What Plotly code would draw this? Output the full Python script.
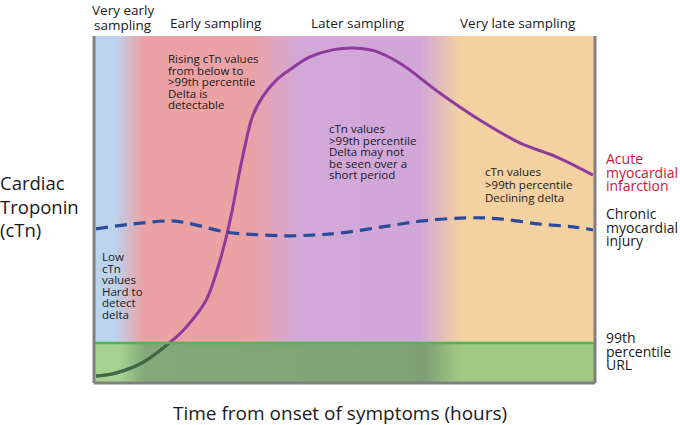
import plotly.graph_objects as go

# ---- data (arbitrary units: x = hours scale 0-100, y = cTn scale 0-100) ----
ami_x = [0.4, 4.4, 9.6, 15, 18.4, 22.4, 25, 26.4, 27.6, 29, 30.4, 31.6, 33.6, 36.4,
         39, 43, 47.6, 52.4, 56, 61, 69, 77, 85, 92.4, 99.6]
ami_y = [2.0, 2.9, 5.8, 11.5, 16.1, 23.9, 34.6, 42.1, 49.9, 60.5, 70.0, 76.7, 82.4,
         87.3, 90.2, 93.9, 96.0, 96.5, 95.7, 92.2, 83.6, 75.8, 69.2, 65.1, 59.9]

chronic_x = [0.4, 7.6, 15.6, 19.6, 26.4, 33, 39, 44.4, 49, 57.6, 65.6, 74.4, 81, 89, 95.6, 99.6]
chronic_y = [44.4, 45.8, 46.7, 45.8, 43.5, 42.7, 42.4, 42.7, 43.2, 45.0, 46.7, 47.6, 47.3,
             45.8, 45.0, 44.1]

url_99th = 11.5

phase_labels = ["Very early<br>sampling", "Early sampling", "Later sampling", "Very late sampling"]

# background gradient stops (x position, colour)
bg_stops = [(0, "#bcd3ec"), (4, "#bcd3ec"), (9.8, "#eaa2a5"), (31, "#eaa2a5"),
            (41, "#d2a8d8"), (65, "#d1a7d8"), (73, "#f3d1a1"), (100, "#f3d1a1")]
band_stops = [(0, "#a5d191"), (5, "#a5d191"), (10, "#84a878"), (60, "#80a475"),
              (66, "#7f9f74"), (73, "#a2c983"), (100, "#a2c983")]

fig = go.Figure()

grid_x = [i * 0.5 for i in range(201)]


def scale(stops):
    return [[p / 100, c] for p, c in stops]


fig.add_trace(go.Heatmap(x=grid_x, y=[url_99th, 100], z=[grid_x],
                         colorscale=scale(bg_stops), zmin=0, zmax=100, showscale=False,
                         zsmooth="best", hoverinfo="skip"))
fig.add_trace(go.Heatmap(x=grid_x, y=[0, url_99th], z=[grid_x],
                         colorscale=scale(band_stops), zmin=0, zmax=100, showscale=False,
                         zsmooth="best", hoverinfo="skip"))

# AMI curve (purple above URL, dark green within the band)
fig.add_trace(go.Scatter(x=ami_x, y=ami_y, mode="lines", line=dict(color="#8e3b9e", width=3, shape="spline"),
                         hoverinfo="skip"))
cut = next(i for i, v in enumerate(ami_y) if v >= url_99th)
fig.add_trace(go.Scatter(x=ami_x[:cut + 1], y=ami_y[:cut + 1], mode="lines",
                         line=dict(color="#3d6b40", width=3, shape="spline"), hoverinfo="skip"))

# chronic injury dashed
fig.add_trace(go.Scatter(x=chronic_x, y=chronic_y, mode="lines",
                         line=dict(color="#2c4a9a", width=3.2, shape="spline", dash="12px,7px"),
                         hoverinfo="skip"))

shapes = [
    dict(type="line", xref="x", yref="y", x0=0, x1=100, y0=url_99th, y1=url_99th,
         line=dict(color="#4fb552", width=2.5)),
    dict(type="line", xref="paper", yref="paper", x0=0, x1=0, y0=0, y1=1, line=dict(color="#808080", width=3)),
    dict(type="line", xref="paper", yref="paper", x0=1, x1=1, y0=0, y1=1, line=dict(color="#808080", width=3)),
    dict(type="line", xref="paper", yref="paper", x0=0, x1=1, y0=0, y1=0, line=dict(color="#808080", width=3)),
]

L, T, W, H = 94, 36, 501, 347
FONT = "Open Sans"
ann = []


def px_x(px):
    return (px - L) / W


def px_y(py):
    return (T + H - py) / H


def block(lines, x, y_top, size, spacing, color="#1a1a1a", xanchor="left"):
    for i, t in enumerate(lines):
        ann.append(dict(text=t, xref="paper", yref="paper", x=px_x(x), y=px_y(y_top + i * spacing),
                        xanchor=xanchor, yanchor="top", showarrow=False,
                        font=dict(family=FONT, size=size, color=color)))


# phase headers
block(["Very early", "sampling"], 123, -1, 13.5, 14.5, xanchor="center")
block([phase_labels[1]], 216, 12, 13.5, 14, xanchor="center")
block([phase_labels[2]], 358, 12, 13.5, 14, xanchor="center")
block([phase_labels[3]], 518, 12, 13.5, 14, xanchor="center")

# inside notes
block(["Rising cTn values", "from below to", ">99th percentile", "Delta is", "detectable"], 166, 49, 11.5, 11.6)
block(["cTn values", ">99th percentile", "Delta may not", "be seen over a", "short period"], 327, 119, 11.5, 11.6)
block(["cTn values", ">99th percentile", "Declining delta"], 483, 162, 11.5, 13)
block(["Low", "cTn", "values", "Hard to", "detect", "delta"], 100, 247, 11.5, 11.6)

# y title
block(["Cardiac", "Troponin", "(cTn)"], -2, 168, 18.5, 23.5)

# right labels
block(["Acute", "myocardial", "infarction"], 604, 147, 14, 13.5, color="#d11437")
block(["Chronic", "myocardial", "injury"], 604, 202, 14, 13.5)
block(["99th", "percentile", "URL"], 604, 326, 14, 13.5)

# x title
block(["Time from onset of symptoms (hours)"], 340, 398, 19, 20, xanchor="center")

fig.update_layout(
    width=680, height=425,
    margin=dict(l=L, r=680 - L - W, t=T, b=425 - T - H),
    paper_bgcolor="white", plot_bgcolor="white",
    showlegend=False,
    xaxis=dict(range=[0, 100], visible=False, fixedrange=True),
    yaxis=dict(range=[0, 100], visible=False, fixedrange=True),
    shapes=shapes, annotations=ann,
)

fig.write_html("out.html", config={"displayModeBar": False},
               post_script="document.body.style.margin='0';document.body.style.padding='0';")
